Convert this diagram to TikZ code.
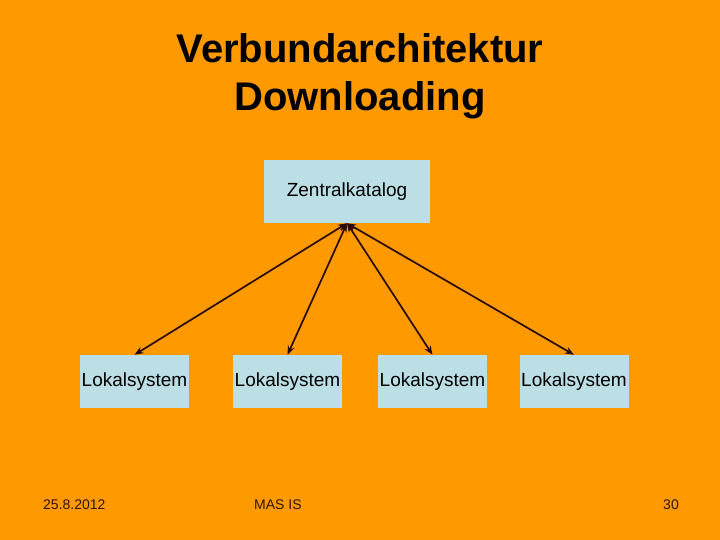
\documentclass[tikz,border=0pt]{standalone}
\usepackage{fontspec}
\setmainfont{Liberation Sans}
\usepackage{xcolor}
\usepackage{tikz}
\usetikzlibrary{arrows.meta}

\definecolor{slideorange}{RGB}{255,153,0}
\definecolor{boxblue}{RGB}{187,223,228}
\definecolor{footbrown}{RGB}{50,20,0}
\definecolor{linkdark}{RGB}{40,10,10}

\tikzset{
    katalog/.style={fill=boxblue, inner sep=0pt, minimum width=166pt, minimum height=63pt, font=\fontsize{19}{22}\selectfont},
    lokal/.style={fill=boxblue, inner sep=0pt, minimum width=109pt, minimum height=53pt, font=\fontsize{19}{22}\selectfont},
    link/.style={line width=1.7pt, color=linkdark, {Stealth[length=9pt,width=7pt]}-{Stealth[length=9pt,width=7pt]}},
    footer/.style={font=\fontsize{14}{16}\selectfont, text=footbrown, inner sep=0pt}
}

\begin{document}
\begin{tikzpicture}[x=1pt, y=-1pt]
        \fill[slideorange] (0,0) rectangle (720,540);
        \useasboundingbox (0,0) rectangle (720,540);

        \node[anchor=base, font=\fontsize{40}{48}\selectfont\bfseries] (Titel-1) at (360,63) {Verbundarchitektur};
        \node[anchor=base, font=\fontsize{40}{48}\selectfont\bfseries] (Titel-2) at (360,111) {Downloading};

        \node[katalog] (Zentralkatalog) at (347,191.5) {Zentralkatalog};
        \node[lokal] (Lokalsystem-1) at (134.5,381.5) {Lokalsystem};
        \node[lokal] (Lokalsystem-2) at (287.5,381.5) {Lokalsystem};
        \node[lokal] (Lokalsystem-3) at (432.5,381.5) {Lokalsystem};
        \node[lokal] (Lokalsystem-4) at (574,381.5) {Lokalsystem};

        \draw[link] (Zentralkatalog.south) -- (Lokalsystem-1.north);
        \draw[link] (Zentralkatalog.south) -- (Lokalsystem-2.north);
        \draw[link] (Zentralkatalog.south) -- (Lokalsystem-3.north);
        \draw[link] (Zentralkatalog.south) -- (Lokalsystem-4.north);

        \node[footer, anchor=base west] (Datum) at (43,509) {25.8.2012};
        \node[footer, anchor=base west] (Kurs) at (254,509) {MAS IS};
        \node[footer, anchor=base east] (Seite) at (679,509) {30};
    \end{tikzpicture}
\end{document}
